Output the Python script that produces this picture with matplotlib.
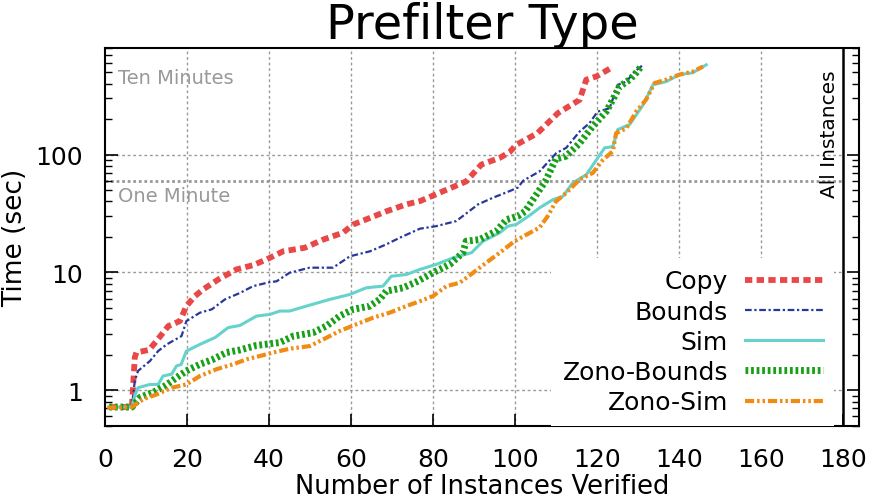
import matplotlib
matplotlib.use("Agg")
import matplotlib.pyplot as plt
from matplotlib.ticker import LogLocator, NullFormatter, FixedLocator

plt.rcParams['font.family'] = ['DejaVu Sans']

copy_x = [1, 6.5, 7.2, 7.6, 10.7, 12.5, 15.4, 18.2, 19.8, 21.9, 23.9, 27.6, 32, 36, 39.4, 43.4, 48.7, 53.2, 58.0, 60.5, 64.6, 68.6, 73.5, 76.8, 79.2, 83.3, 88.1, 91.8, 96.3, 98.7, 100.3, 105.5, 110.5, 115.8, 117.4, 119.9, 123.9]
copy_y = [0.72, 0.72, 1.9, 2.09, 2.2, 2.62, 3.51, 3.86, 5.18, 6.3, 7.18, 8.72, 10.6, 11.5, 12.9, 15.1, 16.2, 19.0, 21.7, 25.5, 29.0, 33.0, 37.8, 40.3, 43.7, 50.3, 59.2, 82.3, 93.9, 105, 121, 152, 225, 292, 432, 461, 555]

bounds_x = [1, 6.5, 7.2, 8.0, 10.9, 12.9, 15.0, 18.6, 19.8, 23.1, 26.0, 29.2, 32.9, 36.1, 40.2, 41.8, 45.0, 49.9, 55.6, 59.7, 64.6, 68.6, 71.9, 76.8, 80.8, 85.7, 91.0, 94.6, 98.7, 100.7, 102.0, 106.0, 110.1, 112.5, 115.8, 118.2, 120.2, 123.1, 125.1, 127.2, 129.2, 131.3]
bounds_y = [0.72, 0.72, 1.2, 1.46, 1.77, 2.15, 2.45, 2.88, 3.86, 4.55, 4.86, 5.9, 6.7, 7.65, 8.28, 8.4, 9.94, 10.97, 10.97, 13.7, 15.1, 17.3, 19.7, 23.5, 24.7, 27.3, 37.8, 43, 49, 52.4, 60, 72, 103, 114, 157, 185, 232, 247, 391, 416, 506, 578]

sim_x = [1, 6.5, 7.2, 8.0, 10.9, 12.9, 14.1, 16.2, 17.4, 18.5, 19.8, 23.1, 26.8, 30.0, 32.9, 36.9, 40.2, 42.6, 45.0, 49.1, 54.8, 59.7, 63.7, 67.8, 69.8, 73.5, 76.8, 80.8, 84.9, 89.4, 92.2, 96.3, 98.3, 100.3, 103.6, 106.0, 109.3, 111.7, 114.1, 117.4, 119.9, 121.9, 123.9, 125.1, 128.0, 131.3, 133.7, 136.9, 140.2, 143.4, 146.7]
sim_y = [0.72, 0.72, 0.9, 1.05, 1.12, 1.12, 1.32, 1.37, 1.61, 1.65, 2.15, 2.45, 2.8, 3.4, 3.55, 4.26, 4.4, 4.7, 4.7, 5.18, 5.9, 6.5, 7.4, 7.65, 9.28, 9.6, 10.6, 11.7, 13.3, 14.7, 18.4, 21.7, 24.7, 25.5, 30.5, 35.3, 41.5, 44.2, 57.5, 67.4, 90.3, 114, 117, 163, 180, 265, 391, 416, 478, 495, 578]

zb_x = [1, 6.5, 8.5, 11.7, 14.6, 17.4, 19.8, 23.1, 26.3, 29.6, 32.9, 36.9, 42.6, 45.9, 50.7, 54.0, 57.2, 60.5, 64.6, 67.0, 68.6, 72.7, 75.9, 80.0, 84.1, 87.3, 88.1, 91.4, 95.5, 97.9, 100.7, 102.5, 104.5, 107.5, 110.0, 112.5, 115.8, 119.0, 122.3, 124.3, 125.5, 128.0, 129.6, 130.8]
zb_y = [0.72, 0.72, 0.87, 0.96, 1.09, 1.28, 1.46, 1.66, 1.83, 2.09, 2.2, 2.4, 2.54, 2.88, 3.08, 3.51, 4.26, 4.86, 5.18, 5.9, 6.94, 7.4, 8.3, 9.94, 11.7, 14.7, 18.4, 19, 22.5, 28, 30, 33, 42, 60, 92, 97, 125, 174, 232, 312, 377, 432, 495, 560]

zs_x = [0.5, 6.5, 9.3, 12.5, 16.2, 19.8, 23.1, 27.2, 31.2, 34.5, 37.7, 41.0, 45.0, 49.9, 53.2, 57.2, 61.3, 65.4, 69.4, 73.5, 76.8, 80.0, 83.3, 86.5, 89.8, 93.0, 96.3, 99.9, 102.8, 106.0, 108.0, 110.0, 112.5, 115.8, 119.0, 121.5, 123.9, 124.7, 127.2, 129.6, 132.0, 134.1, 136.9, 140.2, 143.4, 145.9]
zs_y = [0.71, 0.72, 0.84, 0.92, 1.05, 1.12, 1.32, 1.51, 1.66, 1.83, 1.95, 2.09, 2.25, 2.37, 2.7, 3.18, 3.63, 4.13, 4.55, 5.18, 5.7, 6.3, 7.65, 8.16, 9.94, 12.1, 14.7, 18.4, 20.9, 24.0, 30, 40, 47.2, 61.5, 69.9, 90.3, 106.8, 152, 167, 232, 292, 405, 432, 478, 506, 559]

labels = ["Copy", "Bounds", "Sim", "Zono-Bounds", "Zono-Sim"]
x_ticks = [0, 20, 40, 60, 80, 100, 120, 140, 160, 180]
y_ticks = [1, 10, 100]
y_tick_labels = ["1", "10", "100"]

one_minute = 60
ten_minutes = 600
all_instances = 180

fig = plt.figure(figsize=(8.73, 5.02), dpi=100)
ax = fig.add_axes([0.1206, 0.150, 0.8634, 0.752])

ax.set_yscale('log')
ax.set_xlim(0, 184)
ax.set_ylim(0.5, 800)

# grid
for xv in x_ticks[1:-1]:
    ax.axvline(xv, color='#999999', lw=1.0, ls=(0, (2, 2)), zorder=1)
for yv in y_ticks:
    ax.axhline(yv, xmax=(all_instances) / 184, color='#999999', lw=1.0, ls=(0, (2, 2)), zorder=1)

ax.plot([0, all_instances], [one_minute, one_minute], color='#999999', lw=2.0,
        ls=(0, (1, 1)), zorder=1)
ax.text(3, one_minute * 0.91, "One Minute", color='#999999', fontsize=14, va='top', ha='left')
ax.text(3, ten_minutes * 0.91, "Ten Minutes", color='#999999', fontsize=14, va='top', ha='left')
ax.axvline(all_instances, color='black', lw=1.8, zorder=7)
ax.text(all_instances - 0.9, 530, "All Instances", rotation=90, fontsize=14.5,
        ha='right', va='top')

ax.plot(copy_x, copy_y, color='#e84848', lw=4.2, ls=(0, (1.25, 0.75)),
        dash_capstyle='butt', label=labels[0], zorder=3)
ax.plot(bounds_x, bounds_y, color='#28389a', lw=1.6, ls=(0, (3, 1.2, 1, 1.2)),
        label=labels[1], zorder=3)
ax.plot(sim_x, sim_y, color='#66d2cc', lw=2.2, ls='-', label=labels[2], zorder=3)
ax.plot(zb_x, zb_y, color='#18a018', lw=5.0, ls=(0, (0.4, 0.4)),
        dash_capstyle='butt', label=labels[3], zorder=3)
ax.plot(zs_x, zs_y, color='#f08c14', lw=3.0, ls=(0, (2.2, 0.7, 0.6, 0.7, 0.6, 0.7)),
        dash_capstyle='butt', label=labels[4], zorder=3)

leg = ax.legend(loc='lower right', bbox_to_anchor=(0.967, 0.0), markerfirst=False,
                frameon=True, framealpha=1.0, edgecolor='none', facecolor='white',
                fancybox=False, fontsize=18, handlelength=3.1, handletextpad=0.7,
                labelspacing=0.25, borderaxespad=0.0, borderpad=0.45)
leg.set_zorder(5)

ax.xaxis.set_major_locator(FixedLocator(x_ticks))
ax.set_xticklabels([str(v) for v in x_ticks])
ax.yaxis.set_major_locator(FixedLocator(y_ticks))
ax.set_yticklabels(y_tick_labels)
ax.yaxis.set_minor_locator(LogLocator(base=10, subs=range(2, 10)))
ax.yaxis.set_minor_formatter(NullFormatter())

ax.tick_params(axis='both', which='major', direction='in', length=9, width=1.2,
               labelsize=18)
ax.tick_params(axis='y', which='major', pad=16)
ax.tick_params(axis='x', which='major', pad=15)
ax.tick_params(axis='y', which='both', right=True, left=True)
ax.tick_params(axis='y', which='minor', direction='in', length=5, width=1.0)
ax.tick_params(axis='x', which='both', top=False)

for s in ax.spines.values():
    s.set_linewidth(1.5)

ax.set_xlabel("Number of Instances Verified", fontsize=18.5, labelpad=2)
ax.set_ylabel("Time (sec)", fontsize=19, labelpad=5)
ax.set_title("Prefilter Type", fontsize=34.5, pad=5)

fig.savefig("out.png", dpi=100)
